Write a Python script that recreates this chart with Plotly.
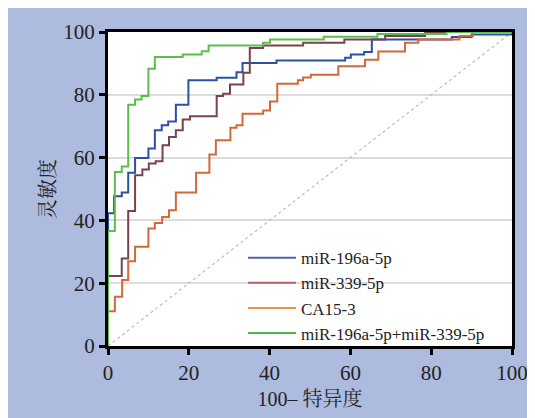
import plotly.graph_objects as go

# ---- data ----
blue_name = "miR-196a-5p"
blue_x = [0, 0, 1.5, 3.4, 5.0, 6.7, 10.0, 11.6, 13.3, 14.9, 16.8, 19.9, 26.9, 31.8, 33.3, 41.7, 58.7, 60.1, 63.4, 65.3, 85.1, 90.0, 100]
blue_y = [0, 42.3, 47.7, 48.9, 55.2, 59.9, 62.9, 68.7, 70.3, 71.5, 76.8, 84.6, 85.4, 87.2, 90.1, 90.9, 91.8, 92.8, 93.6, 97.6, 98.4, 99.2, 100]

brown_name = "miR-339-5p"
brown_x = [0, 0, 3.4, 5.0, 6.7, 8.5, 10.1, 11.8, 13.5, 15.1, 16.8, 18.5, 20.3, 26.9, 28.5, 30.2, 33.5, 35.1, 38.4, 48.3, 58.5, 68.6, 78.5, 100]
brown_y = [0, 22.3, 27.9, 43.0, 54.4, 56.2, 58.1, 58.8, 63.9, 66.6, 68.7, 72.1, 73.2, 79.6, 80.3, 83.3, 87.0, 94.9, 95.7, 96.6, 97.6, 98.7, 100, 100]

orange_name = "CA15-3"
orange_x = [0, 0, 1.7, 3.5, 5.0, 6.7, 10.0, 11.6, 13.4, 15.1, 16.8, 21.8, 25.1, 26.7, 30.3, 31.8, 33.3, 38.4, 40.1, 41.9, 47.0, 48.3, 50.2, 57.0, 63.6, 66.9, 73.5, 76.8, 87.0, 90.3, 100]
orange_y = [0, 11.1, 15.7, 21.0, 27.0, 31.6, 37.4, 39.2, 41.1, 43.2, 48.9, 55.2, 61.0, 65.5, 69.5, 70.3, 74.0, 75.0, 77.9, 83.5, 84.6, 85.5, 86.4, 89.1, 91.2, 93.8, 96.6, 97.6, 98.7, 100, 100]

green_name = "miR-196a-5p+miR-339-5p"
green_x = [0, 0, 1.7, 3.4, 5.0, 6.7, 8.3, 10.0, 11.6, 18.5, 23.2, 24.9, 38.4, 40.1, 53.4, 66.7, 83.8, 100]
green_y = [0, 36.6, 55.4, 57.2, 76.8, 78.5, 79.6, 88.3, 92.0, 92.8, 93.9, 95.7, 96.6, 97.6, 98.5, 99.4, 100, 100]

ref_x = [0, 100]
ref_y = [0, 100]

tick_vals = [0, 20, 40, 60, 80, 100]
x_title = "100– 特异度"
y_title = "灵敏度"

# ---- styles ----
series = [
    (blue_name, blue_x, blue_y, "#2c50a6", "#4a64b2"),
    (brown_name, brown_x, brown_y, "#784449", "#b8606c"),
    (orange_name, orange_x, orange_y, "#d4683a", "#e8924c"),
    (green_name, green_x, green_y, "#5cbd4c", "#4cb848"),
]

BG = "#adbbde"
SERIF = "Liberation Serif, Times New Roman, serif"
CJK = "Liberation Serif, Noto Serif CJK SC, Noto Sans CJK SC, serif"

fig = go.Figure()

fig.add_trace(go.Scatter(x=ref_x, y=ref_y, mode="lines",
                         line=dict(color="#b8b8b8", width=1.1, dash="dot"),
                         showlegend=False, hoverinfo="skip"))

for name, xs, ys, col, _ in series:
    fig.add_trace(go.Scatter(x=xs, y=ys, mode="lines", line_shape="hv",
                             line=dict(color=col, width=2), name=name,
                             showlegend=False))

for name, _, _, _, lcol in series:
    fig.add_trace(go.Scatter(x=[None], y=[None], mode="lines",
                             line=dict(color=lcol, width=2), name=name,
                             showlegend=True))

# figure is drawn 8px in from the page corner (page body margin)
W, H = 535, 418
L, T = 100, 23.5
pw, ph = 404, 314.5
R, B = W - L - pw, H - T - ph

fig.update_layout(
    width=W, height=H,
    margin=dict(l=L, r=R, t=T, b=B, pad=0, autoexpand=False),
    paper_bgcolor=BG, plot_bgcolor="white",
    font=dict(family=SERIF, size=21, color="#222"),
    showlegend=True,
    legend=dict(x=(235 - L) / pw, y=(T + ph - 232) / ph, xanchor="left", yanchor="top",
                bgcolor="rgba(0,0,0,0)", borderwidth=0,
                font=dict(family=SERIF, size=17, color="#222"),
                itemwidth=48, tracegroupgap=0),
)

axis_common = dict(range=[0, 100], tickvals=tick_vals, showline=True, linecolor="black",
                   linewidth=3, mirror=True, ticks="outside", ticklen=6, tickwidth=2.5,
                   tickcolor="black", zeroline=False, automargin=False,
                   tickfont=dict(family=SERIF, size=21, color="#222"))

fig.update_xaxes(**axis_common, showgrid=False,
                 title=dict(text=x_title, font=dict(family=CJK, size=20, color="#222"), standoff=8))
fig.update_yaxes(**axis_common, showgrid=True, gridcolor="#dcdcdc", gridwidth=1.5,
                 title=dict(text=y_title, font=dict(family=CJK, size=20, color="#222"), standoff=3))

fig.write_html("out.html")
